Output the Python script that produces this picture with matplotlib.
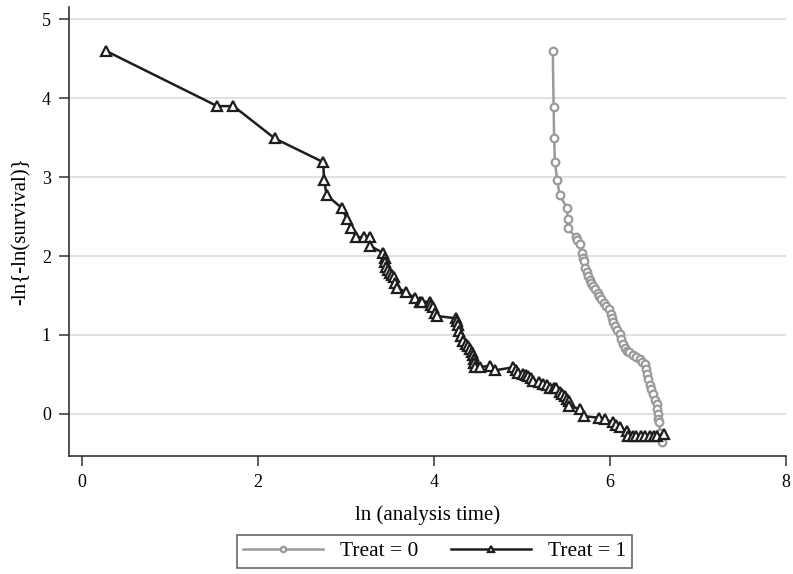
import matplotlib
matplotlib.use("Agg")
import matplotlib.pyplot as plt

# Treat = 0 (grey circles)
t0_x = [5.35, 5.36, 5.365, 5.375, 5.40, 5.43, 5.51, 5.52, 5.52, 5.61, 5.63, 5.66, 5.68, 5.69,
        5.70, 5.72, 5.74, 5.75, 5.77, 5.79, 5.81, 5.83, 5.86, 5.88, 5.90, 5.93, 5.96, 5.99,
        6.01, 6.02, 6.04, 6.06, 6.08, 6.11, 6.13, 6.15, 6.17, 6.19, 6.22, 6.26, 6.30, 6.34,
        6.37, 6.40, 6.41, 6.42, 6.43, 6.45, 6.47, 6.49, 6.51, 6.53, 6.54, 6.55, 6.55, 6.56,
        6.57, 6.59]
t0_y = [4.60, 3.89, 3.49, 3.19, 2.96, 2.77, 2.61, 2.47, 2.35, 2.24, 2.20, 2.15, 2.04, 1.98,
        1.94, 1.85, 1.80, 1.75, 1.70, 1.66, 1.62, 1.58, 1.53, 1.49, 1.45, 1.41, 1.37, 1.33,
        1.27, 1.22, 1.16, 1.11, 1.06, 1.01, 0.95, 0.88, 0.84, 0.80, 0.78, 0.75, 0.72, 0.69,
        0.66, 0.63, 0.57, 0.50, 0.44, 0.37, 0.31, 0.25, 0.18, 0.12, 0.06, 0.00, -0.06, -0.11,
        -0.24, -0.36]

# Treat = 1 (black triangles)
t1_x = [0.27, 1.535, 1.72, 2.19, 2.74, 2.75, 2.78, 2.95, 3.01, 3.06, 3.11, 3.20, 3.27, 3.27,
        3.42, 3.44, 3.44, 3.45, 3.48, 3.50, 3.52, 3.54, 3.56, 3.58, 3.68, 3.78, 3.84, 3.86,
        3.95, 3.97, 3.99, 4.01, 4.03, 4.25, 4.26, 4.27, 4.28, 4.31, 4.33, 4.36, 4.39, 4.41,
        4.43, 4.44, 4.45, 4.46, 4.47, 4.52, 4.64, 4.69, 4.90, 4.93, 4.96, 5.01, 5.04, 5.07,
        5.10, 5.13, 5.19, 5.24, 5.28, 5.32, 5.36, 5.39, 5.43, 5.46, 5.49, 5.51, 5.53, 5.53,
        5.66, 5.70, 5.87, 5.94, 6.03, 6.07, 6.11, 6.19, 6.21, 6.26, 6.30, 6.35, 6.40, 6.45,
        6.50, 6.53, 6.61]
t1_y = [4.60, 3.90, 3.90, 3.49, 3.19, 2.96, 2.77, 2.61, 2.47, 2.35, 2.24, 2.24, 2.24, 2.13,
        2.04, 1.98, 1.92, 1.86, 1.82, 1.79, 1.76, 1.73, 1.66, 1.60, 1.54, 1.47, 1.42, 1.42,
        1.42, 1.38, 1.35, 1.28, 1.24, 1.21, 1.17, 1.13, 1.05, 0.98, 0.92, 0.89, 0.86, 0.82,
        0.78, 0.74, 0.69, 0.64, 0.59, 0.59, 0.61, 0.55, 0.59, 0.55, 0.52, 0.50, 0.49, 0.48,
        0.45, 0.42, 0.40, 0.38, 0.37, 0.33, 0.33, 0.33, 0.27, 0.25, 0.23, 0.19, 0.16, 0.10,
        0.06, -0.03, -0.05, -0.07, -0.11, -0.14, -0.17, -0.22, -0.28, -0.28, -0.28, -0.28, -0.28, -0.28,
        -0.28, -0.28, -0.26]

x_ticks = [0, 2, 4, 6, 8]
y_ticks = [0, 1, 2, 3, 4, 5]

plt.rcParams['font.family'] = ['Liberation Serif', 'DejaVu Serif']

fig = plt.figure(figsize=(7.93, 5.74), dpi=100)
ax = fig.add_axes([0.087, 0.2056, 0.904, 0.7827])

ax.plot(t0_x, t0_y, color='#9a9a9a', lw=1.8, marker='o', ms=5.5, mfc='white',
        mec='#9a9a9a', mew=1.6, label='Treat = 0', zorder=3)
ax.plot(t1_x, t1_y, color='#1e1e1e', lw=1.8, marker='^', ms=6.5, mfc='white',
        mec='#1e1e1e', mew=1.6, label='Treat = 1', zorder=4)

ax.set_xlim(-0.15, 8.0)
ax.set_ylim(-0.535, 5.16)
ax.set_xticks(x_ticks)
ax.set_yticks(y_ticks)
ax.yaxis.grid(True, color='#dcdcdc', lw=1.2)
ax.set_axisbelow(True)
for s in ['top', 'right']:
    ax.spines[s].set_visible(False)
for s in ['left', 'bottom']:
    ax.spines[s].set_color('#333333')
    ax.spines[s].set_linewidth(1.2)
ax.tick_params(axis='both', labelsize=13, length=7, width=1.1, color='#333333', pad=6)
ax.set_xlabel('ln (analysis time)', fontsize=15, labelpad=10)
ax.set_ylabel('-ln{-ln(survival)}', fontsize=15, labelpad=8)

leg = ax.legend(loc='upper center', bbox_to_anchor=(0.51, -0.175), ncol=2, fontsize=15.5,
                frameon=True, fancybox=False, edgecolor='#333333', handlelength=3.7,
                columnspacing=1.5, borderpad=0.3, borderaxespad=0, markerscale=0.7)
leg.get_frame().set_linewidth(1.1)

fig.savefig('out.png', dpi=100)
